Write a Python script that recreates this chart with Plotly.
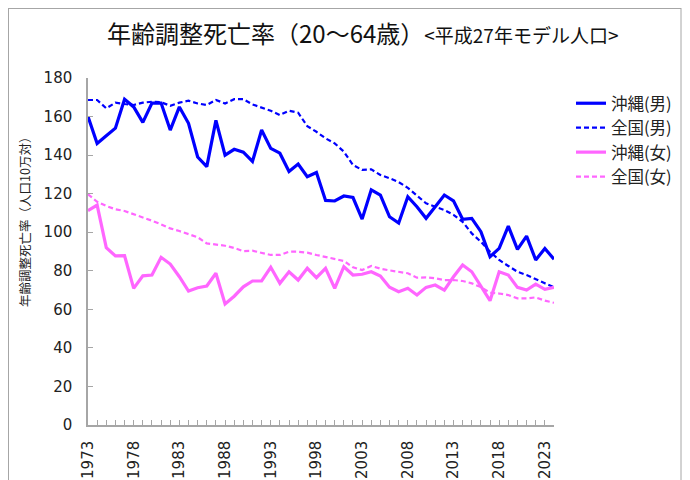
import plotly.graph_objects as go

years = list(range(1973, 2025))

okinawa_male = [160, 146, 150, 154, 169, 165, 157, 167, 167, 153, 165, 156.5, 139, 134, 158, 140,
                143, 141.5, 136.7, 153, 143.5, 141, 131.5, 135.4, 128.8, 131, 116.5, 116.2, 118.8, 118,
                106.8, 122, 119.3, 108, 104.8, 118.4, 113.2, 107.2, 113.2, 119.3, 116.3, 106.7, 107.2,
                100.3, 87.3, 91.6, 103.2, 91.1, 98, 85.6, 91.6, 86]
national_male = [168.6, 168.6, 164.3, 167.2, 166.5, 166, 167.2, 167.7, 167.4, 165.6, 167.2, 168.2, 166.8,
                 166, 168.6, 166.8, 169, 169, 166.3, 164.7, 163, 160.8, 163, 162, 155, 152.1, 148.7,
                 146.1, 141.8, 134.9, 132.3, 132.6, 129.7, 128, 126, 123, 119, 115, 113.2, 111.5, 109,
                 105.4, 99.4, 95, 89.9, 85.6, 82.5, 79.5, 77.8, 75.5, 73.5, 71.4]
okinawa_female = [111.2, 114.1, 92, 87.7, 87.8, 70.9, 77.4, 77.8, 87, 83.5, 76.9, 69.5, 71.2, 72.1, 78.7,
                  62.8, 66.8, 71.7, 74.7, 74.7, 81.8, 73.5, 79.5, 75.2, 81.3, 76.4, 81.3, 70.9, 82.1,
                  77.8, 78.2, 79.5, 77.3, 71.5, 69.1, 70.9, 67.4, 71.4, 72.6, 70, 76.9, 83, 79.5, 72.1,
                  64.5, 79.5, 77.8, 71.4, 70, 73.1, 70.4, 71.4]
national_female = [119.7, 115.8, 113.6, 111.9, 111, 109.3, 108, 106, 104.1, 102, 100.6, 98.9, 97.4, 94.2,
                   93.7, 93, 91.8, 90.2, 90.4, 89.4, 88.2, 88.2, 89.9, 89.9, 89.4, 88.2, 87.3, 86.1, 85.1,
                   81.8, 80.4, 82.5, 81.1, 80.2, 79.5, 78.7, 76.4, 76.6, 76.1, 75.2, 75.2, 74.7, 73.5,
                   71.5, 68.6, 68.2, 67.4, 65.7, 65.7, 66.2, 64.5, 63.4]

series_names = ["沖縄(男)", "全国(男)", "沖縄(女)", "全国(女)"]
x_tick_labels = [str(y) if (y - 1973) % 5 == 0 else "" for y in years]
y_tick_values = list(range(0, 181, 20))

BLUE = "#0000FF"
PINK = "#FF66FF"
FONT = "DejaVu Sans, Noto Sans CJK JP, sans-serif"

fig = go.Figure()
styles = [
    (okinawa_male, BLUE, 3.2, "solid"),
    (national_male, BLUE, 2.2, "5px,3px"),
    (okinawa_female, PINK, 3.2, "solid"),
    (national_female, PINK, 2.2, "5px,3px"),
]
for name, (vals, col, w, dash) in zip(series_names, styles):
    fig.add_trace(go.Scatter(x=years, y=vals, name=name, mode="lines",
                             line=dict(color=col, width=w, dash=dash)))

# page has an 8px body margin; figure sized to fit the 690x480 window
OFF = 8
W, H = 690 - OFF, 480 - OFF
# desired plot area in page pixels: x 88..554, y 78..425
L, T = 88 - OFF, 78 - OFF
R = W - (554 - OFF)
B = H - (425 - OFF)
pw, ph = W - L - R, H - T - B


def px(x):  # page pixel -> paper x
    return (x - OFF - L) / pw


def py(y):  # page pixel -> paper y
    return (H - B - (y - OFF)) / ph


gray = "#A6A6A6"
shapes = [
    dict(type="line", x0=px(8.5), x1=px(8.5), y0=py(8), y1=py(480)),
    dict(type="line", x0=px(8), x1=px(681), y0=py(8.5), y1=py(8.5)),
    dict(type="line", x0=px(681), x1=px(681), y0=py(8), y1=py(480)),
]
for s in shapes:
    s.update(xref="paper", yref="paper", line=dict(color=gray, width=1))

fig.update_layout(
    width=W, height=H,
    margin=dict(l=L, r=R, t=T, b=B, pad=0, autoexpand=False),
    paper_bgcolor="white", plot_bgcolor="white",
    font=dict(family=FONT, color="#222"),
    showlegend=True,
    legend=dict(x=px(571), y=py(86), xanchor="left", yanchor="top",
                font=dict(size=16.5, family="Noto Sans CJK JP, DejaVu Sans", color="#222"),
                bgcolor="rgba(0,0,0,0)", tracegroupgap=0),
    shapes=shapes,
    annotations=[
        dict(text="年齢調整死亡率（20～64歳）<span style='font-size:19px'>&lt;平成27年モデル人口&gt;</span>",
             x=px(362), y=py(33), xref="paper", yref="paper", xanchor="center", yanchor="middle",
             showarrow=False, font=dict(size=24, family="Noto Sans CJK JP", color="#111")),
        dict(text="年齢調整死亡率（人口10万対）", textangle=-90,
             x=px(24), y=py(219), xref="paper", yref="paper", xanchor="center", yanchor="middle",
             showarrow=False, font=dict(size=12.5, family="Noto Sans CJK JP", color="#222")),
    ],
)
fig.update_xaxes(
    range=[1973, 2024], tickmode="array", tickvals=years, ticktext=x_tick_labels,
    tickangle=-90, ticks="inside", ticklen=5, tickcolor=gray, tickwidth=1,
    showline=True, linecolor=gray, linewidth=1.5, showgrid=False, zeroline=False,
    tickfont=dict(size=15, family=FONT, color="#222"), ticklabelstandoff=8, automargin=False,
)
fig.update_yaxes(
    range=[0, 180], tickmode="array", tickvals=y_tick_values,
    ticks="inside", ticklen=5, tickcolor=gray, tickwidth=1,
    showline=True, linecolor=gray, linewidth=1.5, showgrid=False, zeroline=False,
    tickfont=dict(size=15, family=FONT, color="#222"), ticklabelstandoff=11, automargin=False,
)

fig.write_html("out.html")
